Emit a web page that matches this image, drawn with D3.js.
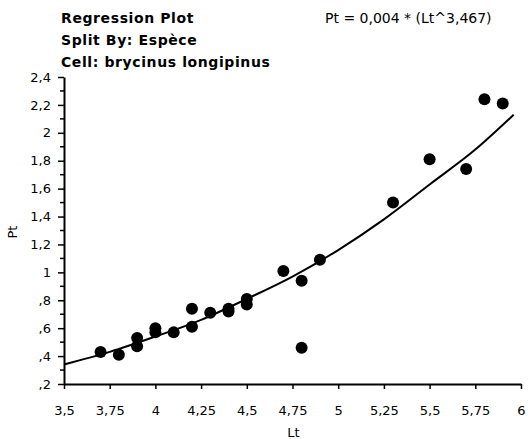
<!DOCTYPE html>
<html>
<head>
<meta charset="utf-8">
<script src="https://cdn.jsdelivr.net/npm/d3@7"></script>
<style>
  body { margin: 0; background: #fff; }
  svg text { font-family: "DejaVu Sans", sans-serif; fill: #000; }
</style>
</head>
<body>
<div id="chart"></div>
<script>
// observations: Lt (x) and Pt (y)
const lt = [3.7, 3.8, 3.9, 3.9, 4.0, 4.0, 4.1, 4.2, 4.2, 4.3, 4.4, 4.4, 4.5, 4.5,
            4.7, 4.8, 4.8, 4.9, 5.3, 5.5, 5.7, 5.8, 5.9];
const pt = [0.43, 0.41, 0.53, 0.47, 0.60, 0.57, 0.57, 0.74, 0.61, 0.71, 0.74, 0.72, 0.81, 0.77,
            1.01, 0.94, 0.46, 1.09, 1.50, 1.81, 1.74, 2.24, 2.21];

// fitted curve
const fitX = [3.5, 3.75, 4, 4.25, 4.5, 4.75, 5, 5.25, 5.5, 5.75, 5.96];
const fitY = [0.34, 0.43, 0.54, 0.66, 0.81, 0.97, 1.16, 1.38, 1.63, 1.88, 2.13];

const xTicks = [3.5, 3.75, 4, 4.25, 4.5, 4.75, 5, 5.25, 5.5, 5.75, 6];
const yTicks = [0.2, 0.4, 0.6, 0.8, 1, 1.2, 1.4, 1.6, 1.8, 2, 2.2, 2.4];
const yMinor = [0.3, 0.5, 0.7, 0.9, 1.1, 1.3, 1.5, 1.7, 1.9, 2.1, 2.3];

const titleLines = ["Regression Plot", "Split By: Espèce", "Cell: brycinus longipinus"];
const equation = "Pt = 0,004 * (Lt^3,467)";

const width = 528, height = 439;

const svg = d3.select("#chart").append("svg")
    .attr("width", width)
    .attr("height", height);

const x = d3.scaleLinear().domain([3.5, 6]).range([64, 521]);
const y = d3.scaleLinear().domain([0.2, 2.4]).range([384, 77]);

// french style numbers: comma decimal, no leading zero
const fmt = v => String(+v.toFixed(2)).replace(".", ",").replace(/^0,/, ",");

// y axis
const yAxis = svg.append("g")
    .attr("transform", `translate(${x.range()[0]},0)`)
    .call(d3.axisLeft(y).tickValues(yTicks).tickFormat(fmt).tickSize(6).tickPadding(7).tickSizeOuter(0));
yAxis.select(".domain").attr("stroke-width", 2);
yAxis.selectAll(".tick line").attr("stroke-width", 1.5);
yAxis.selectAll("text").attr("font-size", 13).attr("font-family", "DejaVu Sans");

svg.append("g")
    .attr("transform", `translate(${x.range()[0]},0)`)
    .selectAll("line")
    .data(yMinor)
    .join("line")
    .attr("x1", -4).attr("x2", 0)
    .attr("y1", d => y(d)).attr("y2", d => y(d))
    .attr("stroke", "#000")
    .attr("stroke-width", 1.5);

// x axis
const xAxis = svg.append("g")
    .attr("transform", `translate(0,${y.range()[0]})`)
    .call(d3.axisBottom(x).tickValues(xTicks).tickFormat(fmt).tickSize(5).tickPadding(17).tickSizeOuter(0));
xAxis.select(".domain").attr("stroke-width", 2);
xAxis.selectAll(".tick line").attr("stroke-width", 1.5);
xAxis.selectAll("text").attr("font-size", 13).attr("font-family", "DejaVu Sans");

// axis titles
svg.append("text")
    .attr("x", (x.range()[0] + x.range()[1]) / 2 + 1)
    .attr("y", 437)
    .attr("text-anchor", "middle")
    .attr("font-size", 13)
    .text("Lt");

svg.append("text")
    .attr("transform", `translate(17,232) rotate(-90)`)
    .attr("text-anchor", "middle")
    .attr("font-size", 13)
    .text("Pt");

// fitted curve
const line = d3.line()
    .x((d, i) => x(fitX[i]))
    .y(d => y(d))
    .curve(d3.curveMonotoneX);

svg.append("path")
    .datum(fitY)
    .attr("fill", "none")
    .attr("stroke", "#000")
    .attr("stroke-width", 2)
    .attr("d", line);

// points
svg.append("g")
    .selectAll("circle")
    .data(lt)
    .join("circle")
    .attr("cx", d => x(d))
    .attr("cy", (d, i) => y(pt[i]))
    .attr("r", 6)
    .attr("fill", "#000");

// titles
svg.append("g")
    .selectAll("text")
    .data(titleLines)
    .join("text")
    .attr("x", 61)
    .attr("y", (d, i) => 23 + i * 22)
    .attr("font-size", 14)
    .attr("font-weight", "bold")
    .attr("letter-spacing", 0.6)
    .text(d => d);

svg.append("text")
    .attr("x", 325)
    .attr("y", 23)
    .attr("font-size", 14)
    .text(equation);
</script>
</body>
</html>
